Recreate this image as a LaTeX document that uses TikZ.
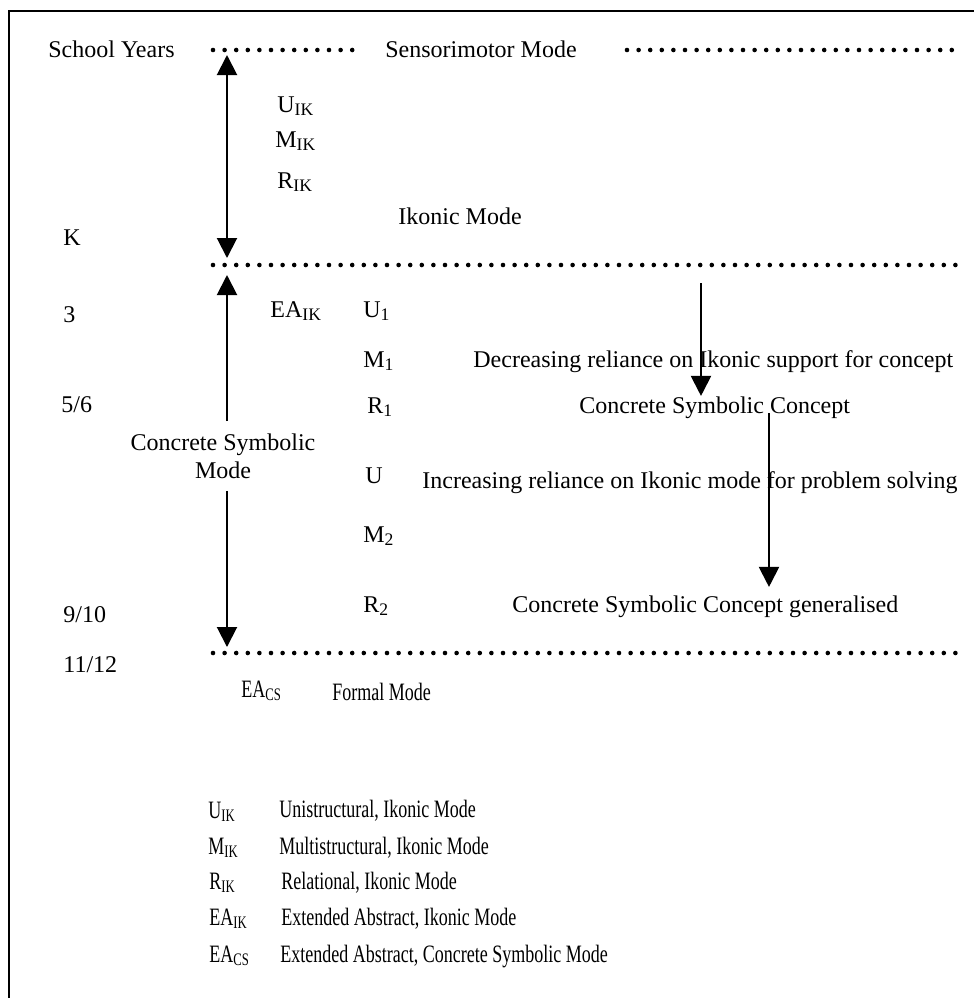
\documentclass[tikz,border=0pt]{standalone}
\usepackage{fontspec}
\setmainfont{Liberation Serif}
\newfontfamily\narrowfont[FakeStretch=0.72]{Liberation Serif}
\usetikzlibrary{arrows.meta}
\newcommand{\sbx}[1]{\raisebox{-1.5pt}{\fontsize{8.8}{9}\selectfont #1}}
\newcommand{\mainsz}{\fontsize{12}{14}\selectfont}
\newcommand{\legsz}{\narrowfont\fontsize{12.5}{14}\selectfont}

\begin{document}
\begin{tikzpicture}[x=0.5pt, y=-0.5pt,
      lbl/.style={anchor=base west, inner sep=0pt, font=\mainsz},
      leg/.style={anchor=base west, inner sep=0pt, font=\legsz},
      dotline/.style={line width=2.3pt, line cap=round, dash pattern=on 0pt off 5.8pt},
      arr/.style={-{Triangle[length=10pt, width=10pt]}, line width=1pt},
      darr/.style={{Triangle[length=10pt, width=10pt]}-{Triangle[length=10pt, width=10pt]}, line width=1pt}
    ]
    \useasboundingbox (0,0) rectangle (974,998);
    \draw[line width=0.9pt] (9,998) -- (9,11) -- (974,11);

    % mode boundaries
    \draw[dotline] (213,50) -- (363,50);
    \draw[dotline] (627,50) -- (963,50);
    \draw[dotline] (213,265) -- (963,265);
    \draw[dotline] (213,653) -- (963,653);

    % school years
    \node[lbl] (years) at (48,57) {School Years};
    \node[lbl] (yk)    at (63,245) {K};
    \node[lbl] (y3)    at (63,322) {3};
    \node[lbl] (y56)   at (61,412) {5/6};
    \node[lbl] (y910)  at (63,622) {9/10};
    \node[lbl] (y1112) at (63,672) {11/12};

    % ikonic mode
    \node[lbl] (sensori) at (385,57) {Sensorimotor Mode};
    \node[lbl] (uik) at (277,112) {U\sbx{IK}};
    \node[lbl] (mik) at (275,147) {M\sbx{IK}};
    \node[lbl] (rik) at (277,188) {R\sbx{IK}};
    \node[lbl] (ikonic) at (398,224) {Ikonic Mode};
    \coordinate (ik-top) at (227,55);
    \coordinate (ik-bot) at (227,258);
    \draw[darr] (ik-top) -- (ik-bot);

    % concrete symbolic mode
    \node[lbl] (eaik) at (270,317) {EA\sbx{IK}};
    \node[lbl] (u1) at (363,317) {U\sbx{1}};
    \node[lbl] (m1) at (363,367) {M\sbx{1}};
    \node[lbl] (r1) at (367,413) {R\sbx{1}};
    \node[lbl] (uu) at (365,483) {U};
    \node[lbl] (m2) at (363,542) {M\sbx{2}};
    \node[lbl] (r2) at (363,612) {R\sbx{2}};
    \node[lbl] (decr) at (473,367) {Decreasing reliance on Ikonic support for concept};
    \node[lbl] (csc)  at (579,413) {Concrete Symbolic Concept};
    \node[lbl] (incr) at (422,488) {Increasing reliance on Ikonic mode for problem solving};
    \node[lbl] (gen)  at (512,612) {Concrete Symbolic Concept generalised};
    \node[font=\mainsz, align=center, inner xsep=0pt, inner ysep=6pt] (csmode) at (223,456)
        {Concrete Symbolic\\Mode};
    \coordinate (cs-top) at (227,275);
    \coordinate (cs-bot) at (227,647);
    \draw[arr] (csmode.north -| cs-top) -- (cs-top);
    \draw[arr] (csmode.south -| cs-bot) -- (cs-bot);

    \coordinate (dec-start) at (701,283);
    \coordinate (gen-drop) at (769,0);
    \draw[arr] (dec-start) -- (csc.north -| dec-start);
    \draw[arr, shorten >=4pt] (csc.base -| gen-drop) -- (gen.north -| gen-drop);

    % formal mode
    \node[leg] (eacs) at (241,697) {EA\sbx{CS}};
    \node[leg] (formal) at (332,700) {Formal Mode};

    % key
    \node[leg] (k1) at (208,818) {U\sbx{IK}};
    \node[leg] (k2) at (208,854) {M\sbx{IK}};
    \node[leg] (k3) at (209,889) {R\sbx{IK}};
    \node[leg] (k4) at (209,925) {EA\sbx{IK}};
    \node[leg] (k5) at (209,962) {EA\sbx{CS}};
    \node[leg] (d1) at (279,817) {Unistructural, Ikonic Mode};
    \node[leg] (d2) at (279,854) {Multistructural, Ikonic Mode};
    \node[leg] (d3) at (281,889) {Relational, Ikonic Mode};
    \node[leg] (d4) at (281,925) {Extended Abstract, Ikonic Mode};
    \node[leg] (d5) at (280,962) {Extended Abstract, Concrete Symbolic Mode};
  \end{tikzpicture}
\end{document}
